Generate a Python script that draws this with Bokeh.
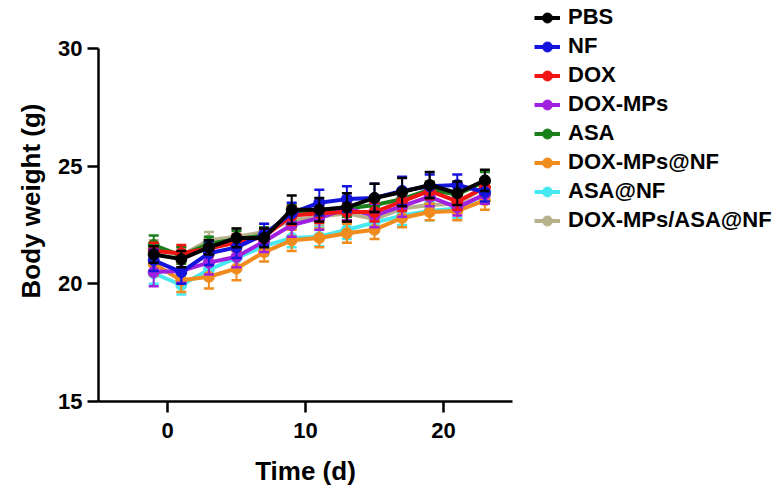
from bokeh.plotting import figure
from bokeh.models import Legend, LegendItem, Range1d, FixedTicker
from bokeh.embed import file_html
from bokeh.resources import INLINE

days = [-1, 1, 3, 5, 7, 9, 11, 13, 15, 17, 19, 21, 23]

groups = ["PBS", "NF", "DOX", "DOX-MPs", "ASA", "DOX-MPs@NF", "ASA@NF", "DOX-MPs/ASA@NF"]
colors = ["#000000", "#1414dc", "#f01414", "#a020e0", "#1a801a", "#f08c1e", "#48e8f0", "#b8b28c"]

pbs = [21.25, 21.05, 21.55, 21.95, 21.95, 23.15, 23.15, 23.25, 23.65, 23.9, 24.2, 23.85, 24.4]
pbs_sd = [0.35, 0.35, 0.3, 0.4, 0.4, 0.6, 0.5, 0.6, 0.6, 0.6, 0.55, 0.5, 0.45]
nf = [21.0, 20.5, 21.3, 21.55, 22.1, 23.0, 23.45, 23.6, 23.65, 23.95, 24.15, 24.2, 23.9]
nf_sd = [0.45, 0.5, 0.5, 0.45, 0.45, 0.45, 0.55, 0.55, 0.6, 0.6, 0.5, 0.45, 0.4]
dox = [21.4, 21.3, 21.5, 21.75, 22.0, 22.9, 23.0, 23.05, 23.05, 23.5, 23.95, 23.5, 24.1]
dox_sd = [0.35, 0.35, 0.35, 0.35, 0.35, 0.4, 0.4, 0.4, 0.4, 0.4, 0.35, 0.35, 0.35]
doxmp = [20.5, 20.55, 20.9, 21.15, 21.8, 22.5, 22.8, 23.2, 22.9, 23.3, 23.7, 23.25, 23.8]
doxmp_sd = [0.6, 0.5, 0.5, 0.45, 0.45, 0.5, 0.5, 0.5, 0.5, 0.45, 0.4, 0.35, 0.4]
asa = [21.65, 21.2, 21.7, 21.9, 22.05, 23.0, 23.1, 23.2, 23.35, 23.6, 24.0, 23.8, 24.35]
asa_sd = [0.4, 0.35, 0.3, 0.35, 0.35, 0.35, 0.35, 0.35, 0.35, 0.4, 0.35, 0.35, 0.4]
doxmp_nf = [20.85, 20.15, 20.3, 20.65, 21.35, 21.85, 21.95, 22.15, 22.3, 22.8, 23.05, 23.1, 23.55]
doxmp_nf_sd = [0.5, 0.5, 0.5, 0.5, 0.4, 0.45, 0.4, 0.4, 0.4, 0.4, 0.35, 0.4, 0.4]
asa_nf = [20.45, 19.95, 20.6, 21.1, 21.6, 21.95, 22.0, 22.3, 22.6, 22.9, 23.1, 23.2, 23.8]
asa_nf_sd = [0.45, 0.4, 0.4, 0.4, 0.4, 0.4, 0.4, 0.4, 0.4, 0.4, 0.4, 0.4, 0.4]
combo = [21.5, 21.2, 21.85, 22.0, 22.2, 22.7, 22.85, 23.0, 22.75, 23.2, 23.35, 23.4, 24.1]
combo_sd = [0.35, 0.35, 0.35, 0.35, 0.35, 0.35, 0.35, 0.35, 0.35, 0.35, 0.35, 0.35, 0.35]

means = [pbs, nf, dox, doxmp, asa, doxmp_nf, asa_nf, combo]
sds = [pbs_sd, nf_sd, dox_sd, doxmp_sd, asa_sd, doxmp_nf_sd, asa_nf_sd, combo_sd]

x_ticks = [0, 10, 20]
y_ticks = [15, 20, 25, 30]
y_axis_bounds = (15, 30)

FONT = "Liberation Sans"

p = figure(frame_width=414, frame_height=401, output_backend="svg", toolbar_location=None,
           x_range=Range1d(-5, 25), y_range=Range1d(15, 32.04),
           min_border_left=98, min_border_right=260, min_border_top=0, min_border_bottom=81)
p.outline_line_color = None
p.xgrid.visible = False
p.ygrid.visible = False

for ax, ticks in ((p.xaxis[0], x_ticks), (p.yaxis[0], y_ticks)):
    ax.ticker = FixedTicker(ticks=ticks, minor_ticks=[])
    ax.axis_line_width = 2.5
    ax.axis_line_color = "black"
    ax.major_tick_line_width = 2.5
    ax.major_tick_line_color = "black"
    ax.major_tick_out = 11
    ax.major_tick_in = 0
    ax.minor_tick_out = 0
    ax.minor_tick_in = 0
    ax.major_label_text_font = FONT
    ax.major_label_text_font_style = "bold"
    ax.major_label_text_font_size = "22px"
    ax.major_label_text_color = "black"
    ax.axis_label_text_font = FONT
    ax.axis_label_text_font_style = "bold"
    ax.axis_label_text_font_size = "26px"
    ax.axis_label_text_color = "black"
p.yaxis[0].bounds = y_axis_bounds

p.xaxis.axis_label = "Time (d)"
p.yaxis.axis_label = "Body weight (g)"
p.xaxis.major_label_standoff = 10
p.yaxis.major_label_standoff = 5
p.xaxis.axis_label_standoff = 15
p.yaxis.axis_label_standoff = 9

renderers = {}
for i in reversed(range(len(groups))):
    m = means[i]
    s = sds[i]
    lo = [a - b for a, b in zip(m, s)]
    hi = [a + b for a, b in zip(m, s)]
    c = colors[i]
    p.segment(x0=days, y0=lo, x1=days, y1=hi, line_color=c, line_width=2)
    p.scatter(x=days, y=hi, marker="dash", size=10, line_color=c, line_width=2.5)
    p.scatter(x=days, y=lo, marker="dash", size=10, line_color=c, line_width=2.5)
    ln = p.line(x=days, y=m, line_color=c, line_width=4)
    pt = p.scatter(x=days, y=m, marker="circle", size=11, fill_color=c, line_color=c)
    renderers[i] = [ln, pt]

items = [LegendItem(label=groups[i], renderers=renderers[i]) for i in range(len(groups))]
legend = Legend(items=items, location=(22, 168))
legend.border_line_color = None
legend.background_fill_alpha = 0
legend.padding = 0
legend.margin = 0
legend.spacing = 3
legend.glyph_height = 25
legend.label_height = 25
legend.glyph_width = 26
legend.label_standoff = 8
legend.label_text_font = FONT
legend.label_text_font_style = "bold"
legend.label_text_font_size = "22px"
legend.label_text_color = "black"
p.add_layout(legend, "right")

open("out.html", "w").write(file_html(p, INLINE))
